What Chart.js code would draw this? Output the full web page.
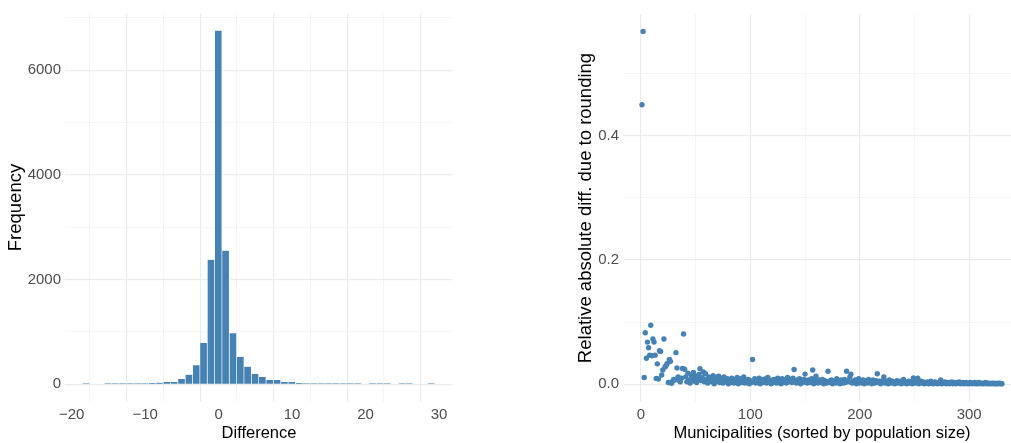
<!DOCTYPE html>
<html>
<head>
<meta charset="utf-8">
<script src="https://cdn.jsdelivr.net/npm/chart.js"></script>
<style>
  html, body { margin: 0; padding: 0; background: #fff; overflow: hidden; width: 1011px; height: 443px; }
  .panel { position: absolute; top: 0; }
</style>
</head>
<body>
<div class="panel" style="left:0px;width:470px;height:443px"><canvas id="histChart" width="470" height="443"></canvas></div>
<div class="panel" style="left:560px;width:464px;height:443px"><canvas id="scatterChart" width="464" height="443"></canvas></div>
<script>
// ---- data ----
// histogram: bin centres (width 1) and counts
const binCenters = [-18,-17,-16,-15,-14,-13,-12,-11,-10,-9,-8,-7,-6,-5,-4,-3,-2,-1,0,1,2,3,4,5,6,7,8,9,10,11,12,13,14,15,16,17,18,19,20,21,22,23,24,25,26,27,28,29];
const binCounts  = [18,0,0,18,18,18,18,18,18,24,32,45,45,100,185,365,787,2380,6757,2553,978,527,337,197,140,83,83,45,45,25,20,18,18,18,18,18,18,18,0,18,18,18,0,18,18,0,0,18];
const histXTicks = [-20,-15,-10,-5,0,5,10,15,20,25,30];
const histYTicks = [0,1000,2000,3000,4000,5000,6000,7000];

// scatter: relative absolute difference per municipality (sorted by population)
const relDiff = [
  0.450,0.568,0.011,0.083,0.042,0.068,0.059,0.047,0.095,0.046,
  0.073,0.068,0.047,0.0096,0.033,0.0085,0.054,0.053,0.015,0.023,
  0.073,0.028,0.030,0.0335,0.003,0.040,0.037,0.0016,0.005,0.008,
  0.0069,0.051,0.0265,0.012,0.006,0.004,0.010,0.0255,0.081,0.0244,
  0.012,0.004,0.018,0.007,0.002,0.015,0.010,0.019,0.005,0.013,
  0.003,0.009,0.016,0.025,0.006,0.011,0.020,0.004,0.017,0.008,
  0.002,0.012,0.006,0.009,0.004,0.014,0.001,0.008,0.011,0.005,
  0.013,0.003,0.007,0.010,0.002,0.012,0.006,0.004,0.009,0.001,
  0.007,0.003,0.010,0.005,0.002,0.008,0.004,0.011,0.001,0.006,
  0.009,0.003,0.005,0.012,0.002,0.007,0.004,0.008,0.001,0.006,
  0.003,0.040,0.005,0.009,0.002,0.007,0.004,0.010,0.001,0.006,
  0.008,0.003,0.005,0.009,0.002,0.011,0.004,0.006,0.001,0.007,
  0.003,0.008,0.005,0.002,0.010,0.004,0.006,0.001,0.009,0.003,
  0.007,0.005,0.002,0.011,0.004,0.006,0.008,0.003,0.010,0.024,
  0.005,0.002,0.007,0.004,0.009,0.001,0.006,0.003,0.008,0.0165,
  0.004,0.002,0.007,0.005,0.003,0.009,0.023,0.001,0.006,0.013,
  0.004,0.002,0.007,0.005,0.003,0.008,0.001,0.006,0.004,0.002,
  0.021,0.005,0.003,0.007,0.001,0.004,0.006,0.002,0.009,0.003,
  0.005,0.001,0.007,0.004,0.002,0.008,0.003,0.021,0.006,0.004,
  0.012,0.0165,0.002,0.005,0.003,0.007,0.001,0.004,0.009,0.002,
  0.005,0.003,0.007,0.001,0.004,0.006,0.002,0.008,0.003,0.005,
  0.001,0.007,0.004,0.002,0.006,0.017,0.003,0.005,0.001,0.004,
  0.006,0.012,0.002,0.005,0.003,0.001,0.007,0.004,0.002,0.005,
  0.003,0.001,0.004,0.006,0.002,0.003,0.005,0.001,0.004,0.008,
  0.002,0.004,0.001,0.003,0.005,0.002,0.004,0.001,0.0105,0.003,
  0.002,0.004,0.010,0.001,0.003,0.005,0.002,0.004,0.001,0.003,
  0.002,0.004,0.001,0.003,0.005,0.002,0.001,0.003,0.004,0.002,
  0.001,0.003,0.002,0.007,0.001,0.003,0.002,0.004,0.001,0.002,
  0.003,0.001,0.002,0.004,0.001,0.003,0.002,0.001,0.003,0.002,
  0.004,0.001,0.002,0.003,0.001,0.002,0.003,0.001,0.002,0.001,
  0.003,0.002,0.001,0.002,0.003,0.001,0.002,0.001,0.003,0.002,
  0.001,0.002,0.001,0.002,0.003,0.001,0.002,0.001,0.002,0.001,
  0.002,0.001,0.002,0.001,0.001,0.002,0.001,0.002,0.001,0.001
];
const scatterXTicks = [0,50,100,150,200,250,300];
const scatterYTicks = [0,0.1,0.2,0.3,0.4,0.5];

// ---- styling ----
const BLUE = "#4682B4";
const FONT = "'Liberation Sans', Arial, sans-serif";
const tickFont = { family: FONT, size: 15 };
const xTitleFont = { family: FONT, size: 16.5 };
const yTitleFont = { family: FONT, size: 18.5 };
const MAJOR = "#EBEBEB", MINOR = "#F3F3F3";

function gridStyle(isMajor) {
  return {
    drawTicks: false,
    color: ctx => (ctx.tick && isMajor(ctx.tick.value)) ? MAJOR : MINOR,
    lineWidth: ctx => (ctx.tick && isMajor(ctx.tick.value)) ? 1.2 : 0.8
  };
}
const minus = v => v < 0 ? "\u2212" + Math.abs(v) : String(v);

// histogram
new Chart(histChart, {
  type: "bar",
  data: {
    datasets: [{
      data: binCenters.map((c, i) => ({ x: c, y: binCounts[i] })),
      backgroundColor: BLUE,
      borderColor: "#ffffff",
      borderWidth: { top: 0, right: 1, bottom: 0, left: 0 },
      borderSkipped: false,
      barPercentage: 1,
      categoryPercentage: 1
    }]
  },
  options: {
    responsive: false,
    animation: false,
    layout: { padding: { top: 12, right: 17, left: 0, bottom: 0 } },
    plugins: { legend: { display: false }, tooltip: { enabled: false } },
    scales: {
      x: {
        type: "linear",
        min: -20.9, max: 31.9,
        offset: false,
        border: { display: false },
        grid: gridStyle(v => v % 10 === 0),
        afterBuildTicks: s => { s.ticks = histXTicks.map(v => ({ value: v })); },
        afterFit: s => { s.height = 41; },
        ticks: {
          autoSkip: false, maxRotation: 0, padding: 4,
          color: "#4D4D4D", font: tickFont,
          callback: v => v % 10 === 0 ? minus(v) : ""
        },
        title: { display: true, text: "Difference", color: "#000", font: xTitleFont, padding: { top: 0, bottom: 0 } }
      },
      y: {
        min: -338, max: 7095,
        border: { display: false },
        grid: gridStyle(v => v % 2000 === 0),
        afterBuildTicks: s => { s.ticks = histYTicks.map(v => ({ value: v })); },
        afterFit: s => { s.width = 65; },
        ticks: {
          autoSkip: false, padding: 4,
          color: "#4D4D4D", font: tickFont,
          callback: v => v % 2000 === 0 ? String(v) : ""
        },
        title: { display: true, text: "Frequency", color: "#000", font: yTitleFont, padding: { top: 5, bottom: 0 } }
      }
    }
  }
});

// scatter
new Chart(scatterChart, {
  type: "scatter",
  data: {
    datasets: [{
      data: relDiff.map((v, i) => ({ x: i + 1, y: v })),
      backgroundColor: BLUE,
      borderWidth: 0,
      pointRadius: 2.7
    }]
  },
  options: {
    responsive: false,
    animation: false,
    layout: { padding: { top: 12, right: 0, left: 0, bottom: 0 } },
    plugins: { legend: { display: false }, tooltip: { enabled: false } },
    scales: {
      x: {
        type: "linear",
        min: -15.45, max: 346.45,
        border: { display: false },
        grid: gridStyle(v => v % 100 === 0),
        afterBuildTicks: s => { s.ticks = scatterXTicks.map(v => ({ value: v })); },
        afterFit: s => { s.height = 41; },
        ticks: {
          autoSkip: false, maxRotation: 0, padding: 4,
          color: "#4D4D4D", font: tickFont,
          callback: v => v % 100 === 0 ? String(v) : ""
        },
        title: { display: true, text: "Municipalities (sorted by population size)", color: "#000", font: xTitleFont, padding: { top: 0, bottom: 0 } }
      },
      y: {
        min: -0.0284, max: 0.596,
        border: { display: false },
        grid: gridStyle(v => Math.round(v * 10) % 2 === 0),
        afterBuildTicks: s => { s.ticks = scatterYTicks.map(v => ({ value: v })); },
        afterFit: s => { s.width = 64; },
        ticks: {
          autoSkip: false, padding: 5,
          color: "#4D4D4D", font: tickFont,
          callback: v => Math.round(v * 10) % 2 === 0 ? v.toFixed(1) : ""
        },
        title: { display: true, text: "Relative absolute diff. due to rounding", color: "#000", font: yTitleFont, padding: { top: 15, bottom: 0 } }
      }
    }
  }
});
</script>
</body>
</html>
